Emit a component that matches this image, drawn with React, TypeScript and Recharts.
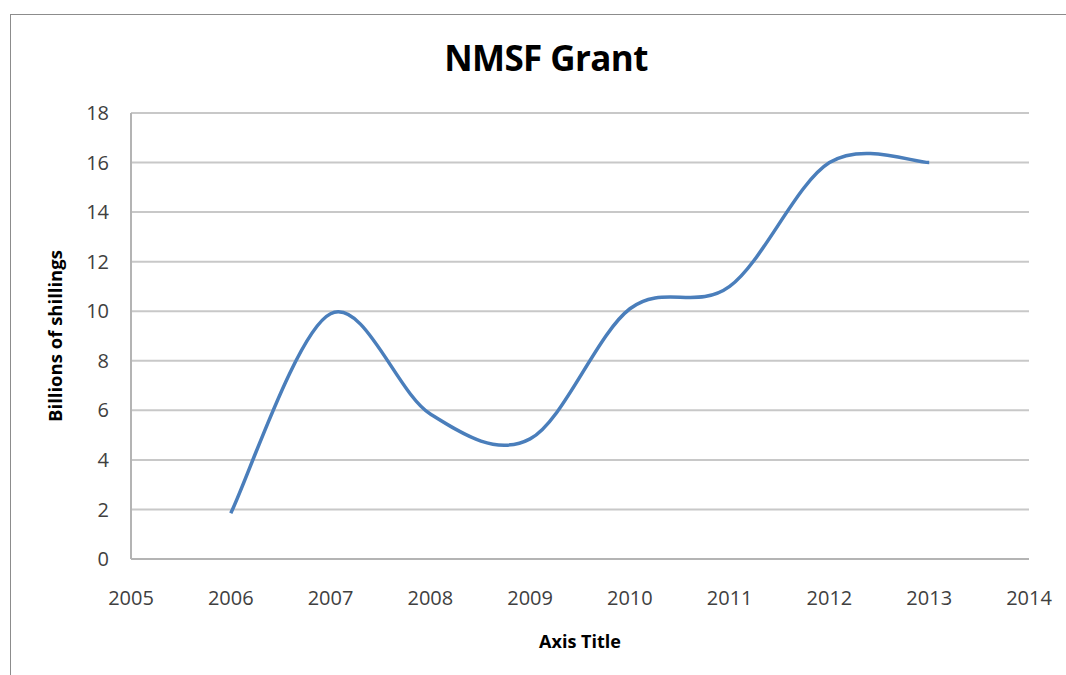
import React from 'react';
import { LineChart, Line, XAxis, YAxis, CartesianGrid, Label } from 'recharts';

const years = [2006, 2007, 2008, 2009, 2010, 2011, 2012, 2013];
const grant = [1.85, 9.9, 5.85, 4.85, 10.1, 11, 16, 16];
const xTicks = [2005, 2006, 2007, 2008, 2009, 2010, 2011, 2012, 2013, 2014];
const yTicks = [0, 2, 4, 6, 8, 10, 12, 14, 16, 18];

const data = years.map((year, i) => ({ year, grant: grant[i] }));

// Excel-style smoothing: Catmull-Rom through every point
const smoothCurve = (context: any) => {
  let pts: number[][] = [];
  return {
    areaStart() {},
    areaEnd() {},
    lineStart() {
      pts = [];
    },
    point(x: number, y: number) {
      pts.push([+x, +y]);
    },
    lineEnd() {
      if (!pts.length) return;
      context.moveTo(pts[0][0], pts[0][1]);
      for (let i = 0; i < pts.length - 1; i++) {
        const p0 = pts[i - 1] || pts[i];
        const p1 = pts[i];
        const p2 = pts[i + 1];
        const p3 = pts[i + 2] || p2;
        context.bezierCurveTo(
          p1[0] + (p2[0] - p0[0]) / 6,
          p1[1] + (p2[1] - p0[1]) / 6,
          p2[0] - (p3[0] - p1[0]) / 6,
          p2[1] - (p3[1] - p1[1]) / 6,
          p2[0],
          p2[1]
        );
      }
    },
  };
};

const font = '"Open Sans", sans-serif';

export default function App() {
  return (
    <div style={{ position: 'absolute', left: 0, top: 0, width: 1066, height: 675, background: '#fff', overflow: 'hidden', fontFamily: font }}>
      <div style={{ position: 'absolute', left: 10, top: 14, width: 1080, height: 700, border: '1.5px solid #8c8c8c' }} />
      <div style={{ position: 'absolute', left: 0, width: 1092, top: 33, lineHeight: '50px', textAlign: 'center', fontSize: 35, fontWeight: 700, color: '#000', letterSpacing: -0.6 }}>
        NMSF Grant
      </div>
      <div style={{ position: 'absolute', left: 0, top: 0 }}>
        <LineChart width={1066} height={675} data={data} margin={{ top: 113, right: 37, bottom: 0, left: 0 }}>
          <CartesianGrid vertical={false} stroke="#c8c8c8" strokeWidth={2} />
          <XAxis
            dataKey="year"
            type="number"
            domain={[2005, 2014]}
            ticks={xTicks}
            interval={0}
            height={116}
            stroke="#b4b4b4"
            strokeWidth={2}
            tickLine={false}
            tickSize={0}
            tickMargin={32}
            tick={{ fill: '#404040', fontSize: 20, fontFamily: font }}
          >
            <Label value="Axis Title" position="insideBottom" offset={27} style={{ fill: '#000', fontSize: 18, fontWeight: 700, fontFamily: font }} />
          </XAxis>
          <YAxis
            type="number"
            domain={[0, 18]}
            ticks={yTicks}
            interval={0}
            width={131}
            stroke="#b4b4b4"
            strokeWidth={2}
            tickLine={false}
            tickSize={0}
            tickMargin={22}
            tick={{ fill: '#404040', fontSize: 20, fontFamily: font }}
          >
            <Label value="Billions of shillings" angle={-90} position="insideLeft" offset={55} style={{ textAnchor: 'middle', fill: '#000', fontSize: 18.5, fontWeight: 700, fontFamily: font }} />
          </YAxis>
          <Line
            dataKey="grant"
            type={smoothCurve as any}
            stroke="#4a7ebb"
            strokeWidth={3.5}
            dot={false}
            isAnimationActive={false}
          />
        </LineChart>
      </div>
    </div>
  );
}
